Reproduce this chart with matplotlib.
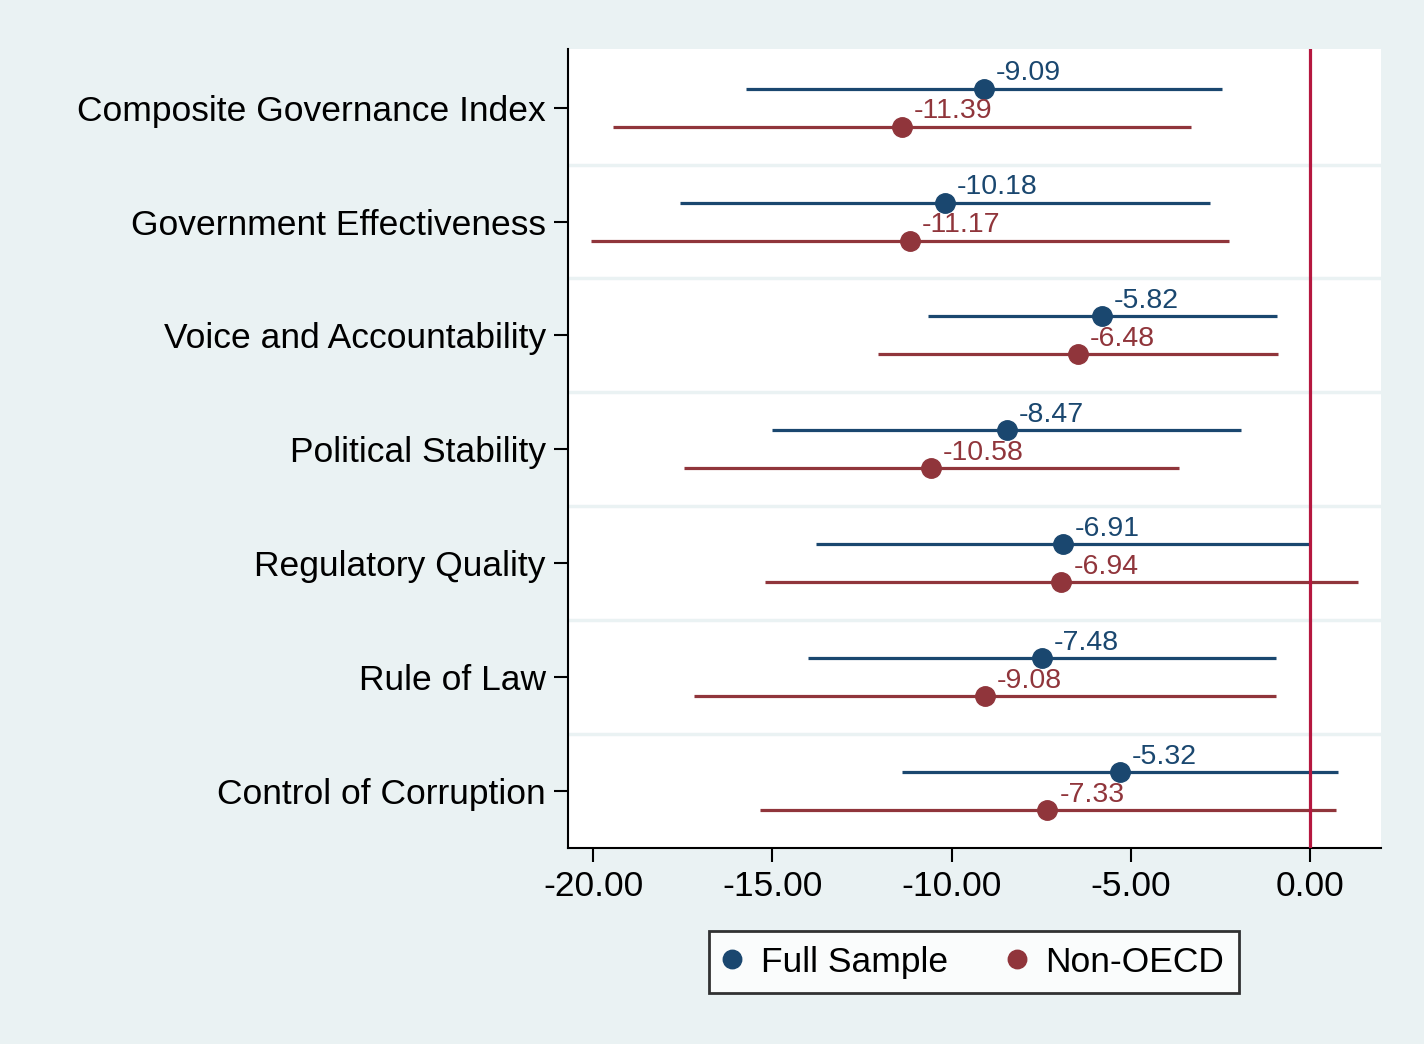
import matplotlib
matplotlib.use("Agg")
import matplotlib.pyplot as plt

plt.rcParams['font.family'] = ['Liberation Sans', 'DejaVu Sans']

labels = ["Composite Governance Index", "Government Effectiveness", "Voice and Accountability",
          "Political Stability", "Regulatory Quality", "Rule of Law", "Control of Corruption"]

full_est = [-9.09, -10.18, -5.82, -8.47, -6.91, -7.48, -5.32]
full_lo = [-15.73, -17.57, -10.66, -15.01, -13.78, -14.00, -11.38]
full_hi = [-2.45, -2.79, -0.93, -1.92, -0.03, -0.95, 0.77]

non_est = [-11.39, -11.17, -6.48, -10.58, -6.94, -9.08, -7.33]
non_lo = [-19.44, -20.06, -12.05, -17.46, -15.20, -17.18, -15.34]
non_hi = [-3.32, -2.26, -0.89, -3.65, 1.34, -0.95, 0.71]

xticks = [-20, -15, -10, -5, 0]

bg = "#eaf2f3"
navy = "#1a476f"
maroon = "#90353b"
cranberry = "#b5173f"

fig = plt.figure(figsize=(14.24, 10.44), dpi=100, facecolor=bg)
ax = fig.add_axes([0.3989, 0.1877, 0.5709, 0.7654])
ax.set_facecolor("white")

pos = list(range(1, len(labels) + 1))
off = 0.167

# group separators
for i in range(len(labels) - 1):
    ax.axhline(pos[i] + 0.5, color=bg, lw=2.5, zorder=1)

series = [(full_est, full_lo, full_hi, -off, navy, "Full Sample"),
          (non_est, non_lo, non_hi, off, maroon, "Non-OECD")]

for est, lo, hi, dy, col, name in series:
    ys = [p + dy for p in pos]
    ax.hlines(ys, lo, hi, color=col, lw=2.3, zorder=2)
    ax.plot(est, ys, "o", color=col, ms=14, zorder=4, label=name, linestyle="none")
    for x, y in zip(est, ys):
        ax.annotate("%.2f" % x, (x, y), xytext=(8.5, 6), textcoords="offset points",
                    ha="left", va="baseline", fontsize=20.5, color=col, zorder=5)

ax.axvline(0, color=cranberry, lw=2.3, zorder=3)

ax.set_xlim(-20.70, 1.97)
ax.set_ylim(7.5, 0.485)
ax.set_xticks(xticks)
ax.set_xticklabels(["%.2f" % t for t in xticks], fontsize=25.5)
ax.set_yticks(pos)
ax.set_yticklabels(labels, fontsize=25.5)
ax.tick_params(axis="both", length=10, width=1.5, color="black")
ax.tick_params(axis="y", pad=6)
ax.tick_params(axis="x", pad=6)

for s in ["top", "right"]:
    ax.spines[s].set_visible(False)
for s in ["left", "bottom"]:
    ax.spines[s].set_linewidth(1.5)

leg = fig.legend(loc="center", bbox_to_anchor=(0.684, 0.0785), ncol=2, fontsize=25.5,
                 frameon=True, fancybox=False, edgecolor="black", handletextpad=0.57,
                 columnspacing=1.67, handlelength=0.5, borderpad=0.4, borderaxespad=0,
                 markerscale=0.95)
leg.get_frame().set_linewidth(2)

fig.savefig("out.png", dpi=100, facecolor=bg)
